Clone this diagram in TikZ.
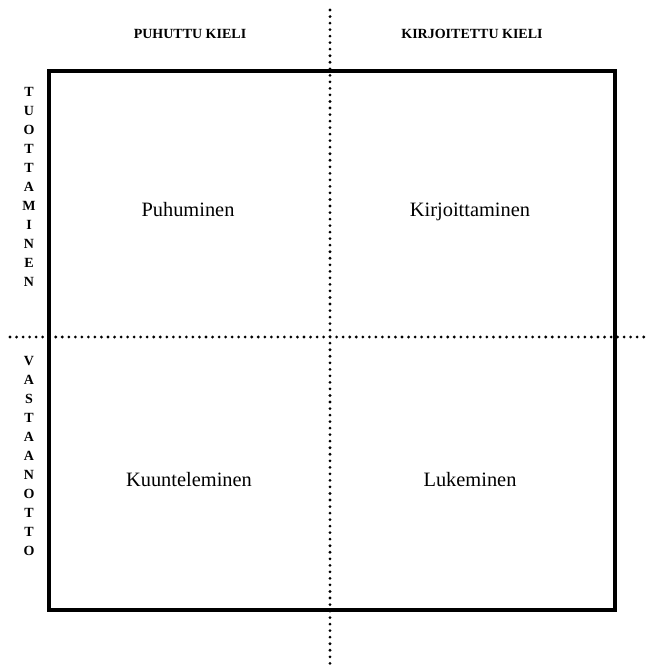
\documentclass[tikz,border=0pt]{standalone}
\usepackage{fontspec}
\setmainfont{Liberation Serif}
\begin{document}
\begin{tikzpicture}[x=0.75pt,y=-0.75pt,
  frame/.style={line width=2.6pt},
  dotline/.style={line width=2.3pt,line cap=round,dash pattern=on 0pt off 4.9pt},
  head/.style={font=\fontsize{10.5}{12}\selectfont\bfseries,inner sep=0pt,anchor=base},
  quad/.style={font=\fontsize{15.3}{18}\selectfont,inner sep=0pt,anchor=base},
  side/.style={font=\fontsize{10.5}{14.2}\selectfont\bfseries,align=center,inner sep=0pt}]
\useasboundingbox (0,0) rectangle (646,668);
\coordinate (vt) at (330,10);
\coordinate (vb) at (330,668);
\coordinate (hl) at (10,337);
\coordinate (hr) at (646,337);
\coordinate (bl) at (49,71);
\coordinate (br) at (615,610);
\draw[frame] (bl) rectangle (br);
\draw[dotline] (vt) -- (vb);
\draw[dotline] (hl) -- (hr);
\node[head] (h1) at (190,38) {PUHUTTU KIELI};
\node[head] (h2) at (472,38) {KIRJOITETTU KIELI};
\node[quad] (q1) at (188,216) {Puhuminen};
\node[quad] (q2) at (470,216) {Kirjoittaminen};
\node[quad] (q3) at (189,486) {Kuunteleminen};
\node[quad] (q4) at (470,486) {Lukeminen};
\node[side] (s1) at (29,187) {T\\U\\O\\T\\T\\A\\M\\I\\N\\E\\N};
\node[side] (s2) at (29,456) {V\\A\\S\\T\\A\\A\\N\\O\\T\\T\\O};
\end{tikzpicture}
\end{document}
